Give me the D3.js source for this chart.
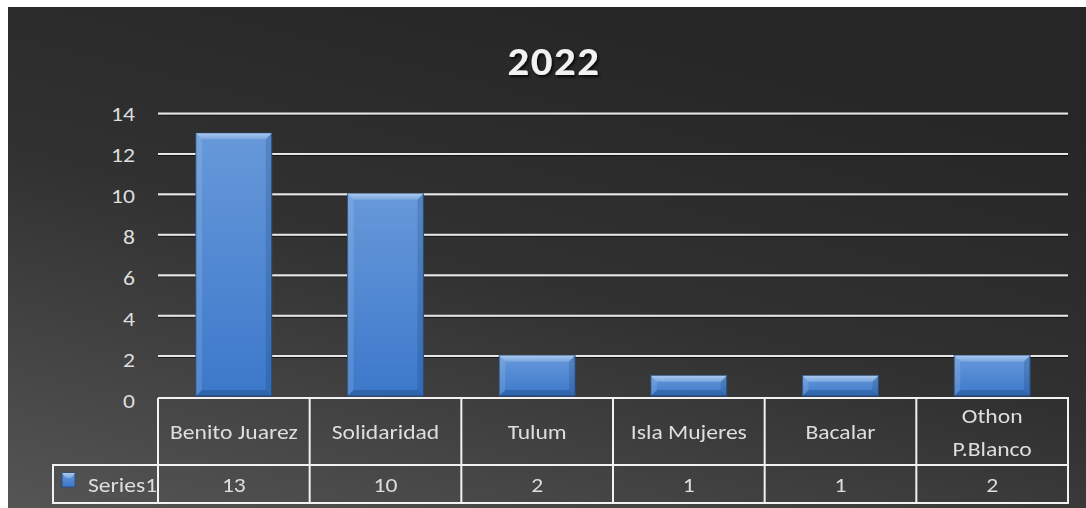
<!DOCTYPE html>
<html>
<head>
<meta charset="utf-8">
<script src="https://cdn.jsdelivr.net/npm/d3@7"></script>
<style>
  html, body { margin: 0; padding: 0; background: #ffffff; }
  svg { display: block; }
  text { font-family: Carlito, Lato, "Open Sans", sans-serif; }
</style>
</head>
<body>
<svg id="chart" width="1086" height="508"></svg>
<script>
// Data
const categories = ["Benito Juarez", "Solidaridad", "Tulum", "Isla Mujeres", "Bacalar", "Othon P.Blanco"];
const categoryLines = [["Benito Juarez"], ["Solidaridad"], ["Tulum"], ["Isla Mujeres"], ["Bacalar"], ["Othon", "P.Blanco"]];
const values = [13, 10, 2, 1, 1, 2];
const seriesName = "Series1";
const yTicks = [0, 2, 4, 6, 8, 10, 12, 14];
const chartTitle = "2022";

const svg = d3.select("#chart");
const W = 1086, H = 508;
const frame = { x: 8, y: 7, w: W - 8, h: H - 7 };
const plot = { left: 158, right: 1068, top: 113, bottom: 396 };
const table = { top: 398, mid: 465, bottom: 503, legendLeft: 53 };
const fs = 20;      // label font size
const sx = 1.18;    // horizontal stretch of the label lettering
const textColor = "#dedede";

// text helper: places a horizontally stretched label
function label(parent, x, y, str, anchor = "middle", size = fs, stretch = sx) {
  return parent.append("text")
    .attr("transform", `translate(${x},${y}) scale(${stretch},1)`)
    .attr("text-anchor", anchor).attr("dy", "0.35em")
    .attr("fill", textColor).attr("font-size", size).text(str);
}

const defs = svg.append("defs");

// chart background: dark, lighter toward the lower left
const bg = defs.append("linearGradient").attr("id", "bg")
  .attr("x1", "0").attr("y1", "1").attr("x2", "0.55").attr("y2", "0");
bg.append("stop").attr("offset", "0").attr("stop-color", "#555555");
bg.append("stop").attr("offset", "0.55").attr("stop-color", "#313131");
bg.append("stop").attr("offset", "1").attr("stop-color", "#262626");

const barGrad = defs.append("linearGradient").attr("id", "barGrad")
  .attr("x1", "0").attr("y1", "0").attr("x2", "0").attr("y2", "1");
barGrad.append("stop").attr("offset", "0").attr("stop-color", "#6799da");
barGrad.append("stop").attr("offset", "1").attr("stop-color", "#3c78ca");

const topBevel = defs.append("linearGradient").attr("id", "topBevel")
  .attr("x1", "0").attr("y1", "0").attr("x2", "0").attr("y2", "1");
topBevel.append("stop").attr("offset", "0").attr("stop-color", "#a9c8ee");
topBevel.append("stop").attr("offset", "1").attr("stop-color", "#7aa6de");

const shadow = defs.append("filter").attr("id", "titleShadow")
  .attr("x", "-20%").attr("y", "-20%").attr("width", "140%").attr("height", "160%");
shadow.append("feDropShadow").attr("dx", 1.5).attr("dy", 2).attr("stdDeviation", 1.5)
  .attr("flood-color", "#000").attr("flood-opacity", 0.8);

const lineShadow = defs.append("filter").attr("id", "lineShadow")
  .attr("x", "-5%").attr("y", "-300%").attr("width", "110%").attr("height", "700%");
lineShadow.append("feDropShadow").attr("dx", 0).attr("dy", 1).attr("stdDeviation", 0.6)
  .attr("flood-color", "#000").attr("flood-opacity", 0.6);

svg.append("rect").attr("x", frame.x).attr("y", frame.y)
  .attr("width", frame.w).attr("height", frame.h).attr("fill", "url(#bg)");

// Scales
const x = d3.scaleBand().domain(categories)
  .range([plot.left, plot.right]).paddingInner(0.5).paddingOuter(0.25);
const y = d3.scaleLinear().domain([0, 14]).range([plot.bottom, plot.top]);

// Value axis labels
const ga = svg.append("g");
yTicks.forEach(t => label(ga, plot.left - 23, y(t) + 4.5 - t * 0.25, t, "end"));

// Gridlines
const grid = d3.axisLeft(y).tickValues(yTicks.filter(d => d > 0))
  .tickSize(-(plot.right - plot.left)).tickFormat("");
const gg = svg.append("g").attr("transform", `translate(${plot.left},0)`)
  .attr("filter", "url(#lineShadow)").call(grid);
gg.select(".domain").remove();
gg.selectAll("line").attr("stroke", "#e6e6e6").attr("stroke-width", 2);

// Bars with a bevelled face
const bars = svg.append("g").selectAll("g").data(values).join("g");
bars.each(function (v, i) {
  const g = d3.select(this);
  const x0 = x(categories[i]), x1 = x0 + x.bandwidth();
  const y0 = y(v), y1 = y(0);
  const b = Math.min(6, (y1 - y0) / 3);
  g.append("rect").attr("x", x0).attr("y", y0).attr("width", x1 - x0).attr("height", y1 - y0)
    .attr("fill", "url(#barGrad)").attr("stroke", "#2b4f80").attr("stroke-width", 1);
  g.append("path").attr("d", `M${x0},${y0}L${x1},${y0}L${x1 - b},${y0 + b}L${x0 + b},${y0 + b}Z`)
    .attr("fill", "url(#topBevel)");
  g.append("path").attr("d", `M${x0},${y0}L${x0 + b},${y0 + b}L${x0 + b},${y1 - b}L${x0},${y1}Z`)
    .attr("fill", "#ffffff").attr("opacity", 0.12);
  g.append("path").attr("d", `M${x1},${y0}L${x1 - b},${y0 + b}L${x1 - b},${y1 - b}L${x1},${y1}Z`)
    .attr("fill", "#0d2a55").attr("opacity", 0.18);
  g.append("path").attr("d", `M${x0},${y1}L${x0 + b},${y1 - b}L${x1 - b},${y1 - b}L${x1},${y1}Z`)
    .attr("fill", "#0d2a55").attr("opacity", 0.25);
});

// Title
svg.append("text").attr("transform", "translate(554,75) scale(1.07,1)").attr("text-anchor", "middle")
  .attr("fill", "#f2f2f2").attr("font-size", 40).attr("font-weight", "bold")
  .attr("letter-spacing", 1.5).attr("filter", "url(#titleShadow)").text(chartTitle);

// Data table
const tg = svg.append("g");
const step = x.step();
const colEdges = categories.map((c, i) => plot.left + i * step).concat([plot.right]);
const lineStyle = s => s.attr("stroke", "#f2f2f2").attr("stroke-width", 2).attr("fill", "none");

tg.append("path").call(lineStyle).attr("d",
  `M${plot.left},${table.top}H${plot.right}V${table.bottom}H${table.legendLeft}V${table.mid}H${plot.right}` +
  `M${table.legendLeft},${table.mid}V${table.bottom}`);
colEdges.slice(0, -1).forEach(cx => {
  tg.append("line").call(lineStyle).attr("x1", cx).attr("x2", cx).attr("y1", table.top).attr("y2", table.bottom);
});

categories.forEach((c, i) => {
  const cx = x(c) + x.bandwidth() / 2;
  const linesTxt = categoryLines[i];
  const lh = 33;
  const cy = 432 - (linesTxt.length - 1) * lh / 2;
  linesTxt.forEach((t, k) => label(tg, cx, cy + k * lh, t));
  label(tg, cx, 485, values[i]);
});

// Legend key inside the table
const kx = 62, ky = 473;
tg.append("rect").attr("x", kx).attr("y", ky).attr("width", 13).attr("height", 14)
  .attr("fill", "url(#barGrad)").attr("stroke", "#2b4f80").attr("stroke-width", 1);
tg.append("path").attr("d", `M${kx},${ky}L${kx + 13},${ky}L${kx + 9},${ky + 5}L${kx + 4},${ky + 5}Z`)
  .attr("fill", "url(#topBevel)");
label(tg, 88, 485, seriesName, "start");
</script>
</body>
</html>
